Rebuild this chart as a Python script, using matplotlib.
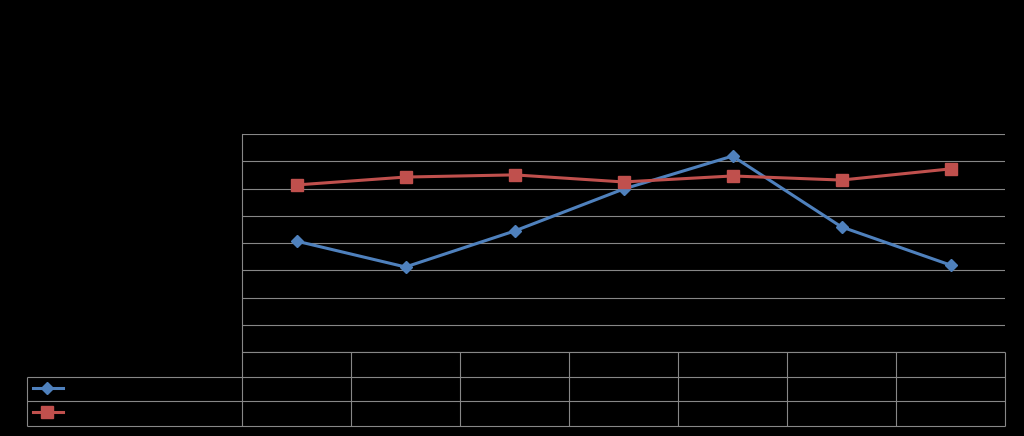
import matplotlib
matplotlib.use("Agg")
import matplotlib.pyplot as plt
import numpy as np

# categories (labels are black on black in the original, so none visible)
categorias = ["", "", "", "", "", "", ""]
serie_azul = [4.07, 3.12, 4.44, 5.98, 7.19, 4.59, 3.19]
serie_vermelha = [6.13, 6.42, 6.50, 6.24, 6.46, 6.31, 6.72]

azul = "#4F81BD"
vermelho = "#C0504D"
cinza = "#878787"

W, H = 1024, 436
fig = plt.figure(figsize=(W / 100, H / 100), dpi=100, facecolor="black")

# area do grafico
x0, x1, ytop, ybot = 242, 1005, 134, 352
ax = fig.add_axes([x0 / W, (H - ybot) / H, (x1 - x0) / W, (ybot - ytop) / H])
ax.set_facecolor("black")
x = np.arange(len(categorias))
ax.set_xlim(-0.5, len(categorias) - 0.5)
ax.set_ylim(0, 8)
ax.set_yticks(np.arange(0, 9, 1))
ax.set_xticks([])
ax.tick_params(left=False, labelleft=False)
ax.grid(axis="y", color=cinza, linewidth=0.8)
ax.set_axisbelow(True)
for s in ["top", "right", "bottom"]:
    ax.spines[s].set_visible(False)
ax.spines["left"].set_color(cinza)
ax.spines["left"].set_linewidth(0.8)

ax.plot(x, serie_azul, color=azul, lw=2.2, marker="D", ms=6, mfc=azul, mec=azul, clip_on=False)
ax.plot(x, serie_vermelha, color=vermelho, lw=2.2, marker="s", ms=8, mfc=vermelho, mec=vermelho, clip_on=False)

# tabela de dados
tx0, tbot = 27, 426
tab = fig.add_axes([tx0 / W, (H - tbot) / H, (x1 - tx0) / W, (tbot - ybot) / H])
tab.set_facecolor("black")
larg = (x1 - x0) / len(categorias)
esq = -0.5 - (x0 - tx0) / larg
n = len(categorias)
tab.set_xlim(esq, n - 0.5)
tab.set_ylim(3, 0)
tab.axis("off")
tab.hlines(0, -0.5, n - 0.5, color=cinza, lw=0.8, clip_on=False)
tab.hlines([1, 2, 3], esq, n - 0.5, color=cinza, lw=0.8, clip_on=False)
tab.vlines(np.arange(n + 1) - 0.5, 0, 3, color=cinza, lw=0.8, clip_on=False)
tab.vlines(esq, 1, 3, color=cinza, lw=0.8, clip_on=False)

# chaves da legenda
px = 1 / larg
tab.plot([esq + 6 * px, esq + 36 * px], [1.45, 1.45], color=azul, lw=2.2, clip_on=False)
tab.plot([esq + 20 * px], [1.45], color=azul, marker="D", ms=6, clip_on=False)
tab.plot([esq + 6 * px, esq + 36 * px], [2.45, 2.45], color=vermelho, lw=2.2, clip_on=False)
tab.plot([esq + 20 * px], [2.45], color=vermelho, marker="s", ms=8, clip_on=False)

fig.savefig("out.png", dpi=100, facecolor="black")
